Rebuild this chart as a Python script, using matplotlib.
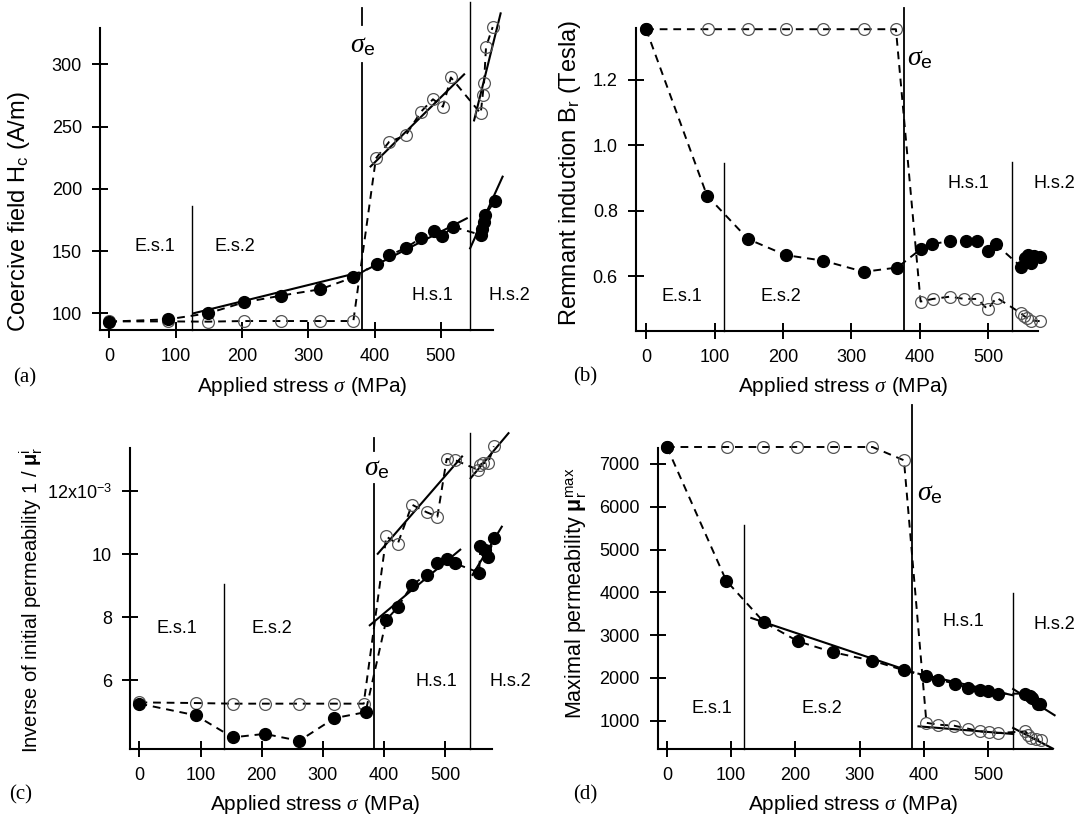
import matplotlib
matplotlib.use('Agg')
import matplotlib.pyplot as plt

plt.rcParams['font.family'] = ['Liberation Sans', 'DejaVu Sans']
plt.rcParams['mathtext.fontset'] = 'custom'
plt.rcParams['mathtext.rm'] = 'Liberation Sans'
plt.rcParams['mathtext.it'] = 'Liberation Serif:italic'
plt.rcParams['mathtext.bf'] = 'Liberation Sans:bold'

# ---------------- (a) coercive field ----------------
a_fill_x = [0, 89, 149, 203, 259, 318, 368, 403, 422, 447, 470, 490, 502, 518, 560, 562, 565, 567, 581]
a_fill_y = [93.3, 95.2, 100, 108.8, 114.2, 119.3, 128.9, 140, 146.5, 152.6, 160.5, 166, 162, 169.6,
            163, 168, 173.5, 179, 190]
a_open_x = [0, 89, 149, 203, 259, 318, 368, 402, 422, 447, 470, 488, 503, 515, 560, 563, 565, 568, 578]
a_open_y = [93.5, 93.5, 93.3, 93.8, 93.8, 93.8, 93.8, 224.5, 237.8, 243, 262, 272, 266, 289.5,
            260.6, 275.3, 285.2, 314, 330]
a_fits = [([127, 376], [100, 132.7]), ([389, 539], [135.3, 176.3]), ([544, 593], [152.2, 209.8]),
          ([394, 535], [218, 292]), ([550, 590], [255, 341])]
a_bounds = [124, 381.6, 544]
a_bound_tops = [186.4, 300.8, 350]
a_sigma_dash = [331.5, 345.2]
a_yticks = [100, 150, 200, 250, 300]

# ---------------- (b) remnant induction ----------------
b_fill_x = [0, 89, 149, 204, 259, 318, 367, 401, 418, 444, 468, 484, 499, 511, 548, 553, 558, 563, 567, 575]
b_fill_y = [1.355, 0.846, 0.713, 0.664, 0.647, 0.613, 0.626, 0.682, 0.697, 0.708, 0.708, 0.708, 0.678,
            0.697, 0.628, 0.655, 0.665, 0.64, 0.66, 0.657]
b_open_x = [0, 90, 149, 204, 259, 318, 365, 401, 419, 444, 465, 484, 499, 512, 548, 552, 557, 563, 575]
b_open_y = [1.355, 1.355, 1.355, 1.355, 1.355, 1.355, 1.355, 0.522, 0.530, 0.537, 0.530, 0.530, 0.498,
            0.534, 0.486, 0.478, 0.471, 0.464, 0.462]
b_fits = []
b_bounds = [113.4, 377, 535]
b_bound_tops = [0.945, 1.42, 0.95]
b_yticks = [0.6, 0.8, 1.0, 1.2]

# ---------------- (c) inverse initial permeability (x1e-3) ----------------
c_fill_x = [0, 92, 152.5, 205, 261.6, 319, 370, 404, 422.6, 446, 470, 487.6, 502.8, 515.8,
            556, 558, 565, 571, 580]
c_fill_y = [5.26, 4.89, 4.19, 4.30, 4.08, 4.80, 4.99, 7.92, 8.32, 9.03, 9.35, 9.72, 9.85, 9.72,
            9.42, 10.28, 10.15, 9.93, 10.52]
c_open_x = [0, 92, 152.5, 205, 261.6, 319, 367, 404, 422.6, 446, 470, 487.6, 502.8, 515.8,
            553.7, 558, 562, 570.6, 580]
c_open_y = [5.3, 5.28, 5.26, 5.26, 5.26, 5.26, 5.26, 10.57, 10.33, 11.58, 11.34, 11.20, 13.03, 13.0,
            12.69, 12.85, 12.9, 12.9, 13.43]
c_fits = [([377, 525], [7.75, 10.15]), ([545, 593], [9.35, 10.88]),
          ([390, 528], [10.02, 13.11]), ([542, 604], [12.42, 13.85])]
c_bounds = [138.4, 384, 540.7]
c_bound_tops = [9.06, 12.23, 13.85]
c_sigma_dash = [13.27, 13.69]
c_yticks = [6, 8, 10, 12]
c_yticklabels = ['6', '8', '10', '12x10$^\\mathregular{-3}$']

# ---------------- (d) maximal permeability ----------------
d_fill_x = [0, 92.3, 151.3, 204, 259, 320, 369, 404, 422.7, 448, 469.4, 487, 500.5, 515,
            558, 565, 569, 577, 581]
d_fill_y = [7397, 4273, 3299, 2855, 2598, 2403, 2177, 2037, 1959, 1866, 1764, 1725, 1701, 1631,
            1631, 1569, 1530, 1398, 1398]
d_open_x = [0, 92.8, 150, 202, 259, 320, 369, 404, 422.7, 447, 469, 487, 501.6, 515,
            558, 562.6, 566, 574, 582]
d_open_y = [7397, 7397, 7397, 7397, 7397, 7397, 7086, 950, 906, 883, 813, 750, 735, 712,
            750, 672, 594, 570, 555]
d_fits = [([131.4, 383.6], [3400, 2130]), ([391.6, 539], [2098, 1592]), ([539, 603.5], [1740, 1127]),
          ([391.6, 539], [868, 689]), ([539, 601], [830, 346])]
d_bounds = [120.7, 381, 538]
d_bound_tops = [5582, 8387, 3990]
d_yticks = [1000, 2000, 3000, 4000, 5000, 6000, 7000]

xticks = [0, 100, 200, 300, 400, 500]
regions = ['E.s.1', 'E.s.2', 'H.s.1', 'H.s.2']


def draw_panel(ax, fx, fy, ox, oy, fits, bounds, tops, xlim, ylim, yticks, sigma_dash=None):
    ax.set_xlim(*xlim)
    ax.set_ylim(*ylim)
    for s in ['top', 'right']:
        ax.spines[s].set_visible(False)
    for s in ['left', 'bottom']:
        ax.spines[s].set_linewidth(1.5)
    ax.tick_params(direction='inout', length=12, width=1.4, labelsize=13, pad=7)
    ax.set_xticks(xticks)
    ax.set_yticks(yticks)

    # dashed guides through the data
    ax.plot(ox, oy, color='black', lw=1.4, ls=(0, (4, 3)), clip_on=False, zorder=2)
    ax.plot(fx, fy, color='black', lw=1.4, ls=(0, (4, 3)), clip_on=False, zorder=2)
    # linear fits
    for xs, ys in fits:
        ax.plot(xs, ys, color='black', lw=1.5, clip_on=False, zorder=3)
    # markers
    ax.plot(ox, oy, 'o', ms=8.5, mfc='none', mec='#555555', mew=0.9, clip_on=False, zorder=4)
    ax.plot(fx, fy, 'o', ms=8.5, color='black', clip_on=False, zorder=5)

    # region boundaries
    y0 = ylim[0]
    for i, (b, t) in enumerate(zip(bounds, tops)):
        ax.plot([b, b], [y0, t], color='black', lw=1.3 if i == 1 else 1.0, clip_on=False, zorder=1)
    if sigma_dash is not None:
        ax.plot([bounds[1], bounds[1]], sigma_dash, color='black', lw=1.3, clip_on=False)


fig = plt.figure(figsize=(10.83, 8.16), dpi=100)
ax_a = fig.add_axes([0.0923, 0.5956, 0.3626, 0.3697])
ax_b = fig.add_axes([0.5871, 0.5944, 0.3710, 0.3710])
ax_c = fig.add_axes([0.1203, 0.0821, 0.3340, 0.3689])
ax_d = fig.add_axes([0.6072, 0.0821, 0.3645, 0.3689])

draw_panel(ax_a, a_fill_x, a_fill_y, a_open_x, a_open_y, a_fits, a_bounds, a_bound_tops,
           (-14, 578), (86.6, 329), a_yticks, a_sigma_dash)
draw_panel(ax_b, b_fill_x, b_fill_y, b_open_x, b_open_y, b_fits, b_bounds, b_bound_tops,
           (-15, 572), (0.432, 1.358), b_yticks)
draw_panel(ax_c, c_fill_x, c_fill_y, c_open_x, c_open_y, c_fits, c_bounds, c_bound_tops,
           (-15, 577), (3.82, 13.38), c_yticks, c_sigma_dash)
draw_panel(ax_d, d_fill_x, d_fill_y, d_open_x, d_open_y, d_fits, d_bounds, d_bound_tops,
           (-14.5, 600), (338, 7374), d_yticks)

ax_b.set_yticklabels(['0.6', '0.8', '1.0', '1.2'])
ax_c.set_yticklabels(c_yticklabels)

# region labels
lab_pos = {
    ax_a: [(69, 153.5), (189, 153.5), (487, 114), (603, 114)],
    ax_b: [(53, 0.537), (197, 0.537), (471, 0.884), (597, 0.884)],
    ax_c: [(62, 7.66), (217, 7.66), (486, 5.97), (607, 5.97)],
    ax_d: [(70, 1296), (241, 1296), (461, 3322), (603, 3244)],
}
for ax, pos in lab_pos.items():
    for name, (x, y) in zip(regions, pos):
        ax.text(x, y, name, fontsize=13, ha='center', va='center', clip_on=False)

sig = '$\\sigma_\\mathregular{e}$'
ax_a.text(381.6, 315.4, sig, fontsize=20, ha='center', va='center')
ax_b.text(381, 1.266, sig, fontsize=20, ha='left', va='center')
ax_c.text(388.7, 12.74, sig, fontsize=20, ha='center', va='center', clip_on=False)
ax_d.text(389, 6322, sig, fontsize=20, ha='left', va='center')

W, H = 1083, 816
xlab = 'Applied stress $\\sigma$ (MPa)'
for x, y in [(302, 387), (843, 387), (315, 805), (853, 805)]:
    fig.text(x / W, 1 - y / H, xlab, fontsize=15, ha='center', va='center')

ylabels = [
    (19, 212, 17, 'Coercive field H$_\\mathregular{c}$ (A/m)'),
    (570, 173, 17, 'Remnant induction B$_\\mathregular{r}$ (Tesla)'),
    (31, 600, 14.5, 'Inverse of initial permeability 1 / $\\mathbf{\\mu}_\\mathregular{r}^\\mathregular{i}$'),
    (575, 593, 15.5, 'Maximal permeability $\\mathbf{\\mu}_\\mathregular{r}^\\mathregular{max}$'),
]
for x, y, fs, t in ylabels:
    fig.text(x / W, 1 - y / H, t, fontsize=fs, ha='center', va='center', rotation=90)

for x, y, t in [(13, 378, '(a)'), (573, 377, '(b)'), (9, 795, '(c)'), (573, 795, '(d)')]:
    fig.text(x / W, 1 - y / H, t, fontsize=15, ha='left', va='center', family='Liberation Serif')

fig.savefig('out.png', dpi=100)
